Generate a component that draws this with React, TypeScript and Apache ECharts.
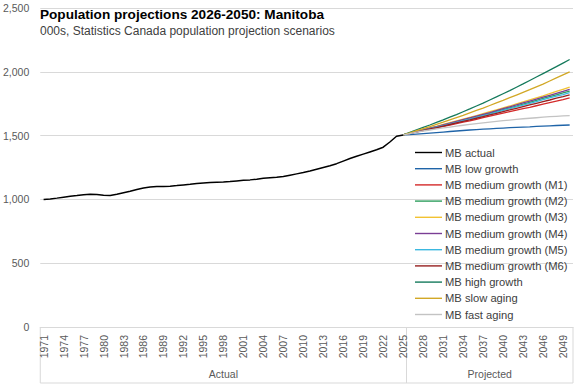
import React, { useEffect, useRef } from "react";
import * as echarts from "echarts";

const FONT = "'Liberation Sans', Arial, sans-serif";

const years: string[] = Array.from({ length: 80 }, (_, i) => String(1971 + i));

// 1971-2025, thousands
const mbActual = [
  1000, 1004, 1010, 1017, 1024, 1030, 1037, 1041, 1038, 1032,
  1030, 1040, 1052, 1064, 1077, 1090, 1097, 1101, 1102, 1104,
  1108, 1113, 1118, 1124, 1128, 1132, 1134, 1136, 1140, 1145,
  1150, 1153, 1158, 1165, 1170, 1173, 1180, 1190, 1200, 1210,
  1222, 1236, 1250, 1264, 1280, 1300, 1320, 1338, 1355, 1372,
  1389, 1409, 1450, 1495, 1505,
];

// 2025-2050, thousands
const lowGrowth = [
  1505, 1508, 1512, 1516, 1520, 1524, 1528, 1532, 1536, 1540, 1544, 1547, 1550,
  1553, 1556, 1559, 1562, 1565, 1567, 1569, 1572, 1575, 1577, 1579, 1581, 1583,
];
const mediumM1 = [
  1505, 1517, 1528, 1539, 1550, 1561, 1572, 1583, 1594, 1605, 1616, 1628, 1640,
  1652, 1664, 1676, 1688, 1700, 1712, 1722, 1734, 1746, 1758, 1770, 1782, 1795,
];
const mediumM2 = [
  1505, 1519, 1532, 1544, 1556, 1568, 1581, 1594, 1607, 1620, 1633, 1647, 1661,
  1675, 1689, 1703, 1717, 1731, 1746, 1761, 1776, 1791, 1806, 1820, 1834, 1848,
];
const mediumM3 = [
  1505, 1520, 1534, 1547, 1560, 1573, 1587, 1601, 1615, 1629, 1643, 1657, 1672,
  1687, 1702, 1717, 1732, 1748, 1764, 1780, 1796, 1812, 1829, 1846, 1863, 1880,
];
const mediumM4 = [
  1505, 1519, 1532, 1545, 1558, 1571, 1584, 1597, 1611, 1625, 1639, 1653, 1667,
  1681, 1696, 1711, 1726, 1741, 1756, 1771, 1786, 1801, 1816, 1831, 1846, 1862,
];
const mediumM5 = [
  1505, 1518, 1530, 1542, 1554, 1566, 1578, 1591, 1604, 1617, 1630, 1643, 1656,
  1669, 1683, 1697, 1711, 1725, 1739, 1753, 1767, 1781, 1795, 1809, 1822, 1836,
];
const mediumM6 = [
  1505, 1518, 1530, 1541, 1552, 1563, 1575, 1587, 1599, 1611, 1623, 1636, 1649,
  1662, 1675, 1688, 1701, 1714, 1727, 1740, 1753, 1766, 1779, 1793, 1806, 1820,
];
const highGrowth = [
  1505, 1525, 1545, 1564, 1583, 1603, 1623, 1644, 1665, 1687, 1709, 1732, 1755,
  1779, 1803, 1828, 1853, 1879, 1905, 1932, 1959, 1986, 2013, 2040, 2068, 2096,
];
const slowAging = [
  1505, 1522, 1539, 1555, 1571, 1588, 1605, 1623, 1641, 1659, 1678, 1697, 1716,
  1736, 1756, 1776, 1797, 1818, 1839, 1860, 1882, 1904, 1928, 1952, 1976, 2000,
];
const fastAging = [
  1505, 1516, 1527, 1536, 1544, 1552, 1560, 1567, 1574, 1581, 1588, 1594, 1600,
  1606, 1612, 1617, 1622, 1627, 1632, 1636, 1640, 1644, 1648, 1651, 1654, 1657,
];

const projStartIndex = 54; // 2025
const groupLabels = ["Actual", "Projected"];
const lastActualYear = "2025";
const firstProjectedYear = "2026";

const seriesDefs: { name: string; data: number[]; color: string; projected: boolean }[] = [
  { name: "MB actual", data: mbActual, color: "#000000", projected: false },
  { name: "MB low growth", data: lowGrowth, color: "#1f64a8", projected: true },
  { name: "MB medium growth (M1)", data: mediumM1, color: "#d42a2a", projected: true },
  { name: "MB medium growth (M2)", data: mediumM2, color: "#2e9e5e", projected: true },
  { name: "MB medium growth (M3)", data: mediumM3, color: "#f2c232", projected: true },
  { name: "MB medium growth (M4)", data: mediumM4, color: "#7a3e95", projected: true },
  { name: "MB medium growth (M5)", data: mediumM5, color: "#3bb8e0", projected: true },
  { name: "MB medium growth (M6)", data: mediumM6, color: "#962020", projected: true },
  { name: "MB high growth", data: highGrowth, color: "#157a5c", projected: true },
  { name: "MB slow aging", data: slowAging, color: "#d2a826", projected: true },
  { name: "MB fast aging", data: fastAging, color: "#c3c3c3", projected: true },
];

export default function App() {
  const ref = useRef<HTMLDivElement>(null);

  useEffect(() => {
    if (!ref.current) return;
    const chart = echarts.init(ref.current, null, { renderer: "svg" });

    const series = seriesDefs.map((s) => ({
      name: s.name,
      type: "line",
      symbol: "none",
      data: s.projected
        ? (new Array(projStartIndex).fill(null) as (number | null)[]).concat(s.data)
        : s.data,
      lineStyle: { color: s.color, width: s.projected ? 1.3 : 1.5 },
      itemStyle: { color: s.color },
      z: s.projected ? 2 : 3,
    }));

    chart.setOption({
      animation: false,
      textStyle: { fontFamily: FONT },
      title: {
        text: "Population projections 2026-2050: Manitoba",
        subtext: "000s, Statistics Canada population projection scenarios",
        left: 40,
        top: 7,
        padding: 0,
        itemGap: 4,
        textStyle: { fontFamily: FONT, fontSize: 13.6, fontWeight: "bold", color: "#000000" },
        subtextStyle: { fontFamily: FONT, fontSize: 12, color: "#404040" },
      },
      legend: {
        orient: "vertical",
        left: 415,
        top: 146,
        padding: 0,
        icon: "rect",
        itemWidth: 27,
        itemHeight: 1.4,
        itemGap: 3.2,
        data: seriesDefs.map((s) => s.name),
        textStyle: {
          fontFamily: FONT,
          fontSize: 11.2,
          lineHeight: 13,
          color: "#404040",
          padding: [0, 0, 0, -2],
        },
      },
      grid: { left: 40, right: 3, top: 8, bottom: 57, containLabel: false },
      xAxis: {
        type: "category",
        data: years,
        boundaryGap: true,
        axisLine: { lineStyle: { color: "#d9d9d9" } },
        axisTick: { show: false },
        axisLabel: {
          interval: 2,
          rotate: 90,
          fontSize: 10.5,
          color: "#595959",
          margin: 8,
          fontFamily: FONT,
        },
      },
      yAxis: {
        type: "value",
        min: 0,
        max: 2500,
        interval: 500,
        axisLine: { show: false },
        axisTick: { show: false },
        splitLine: { lineStyle: { color: "#d9d9d9" } },
        axisLabel: {
          fontSize: 10.5,
          color: "#595959",
          margin: 11,
          fontFamily: FONT,
          formatter: (v: number) => v.toLocaleString("en-US"),
        },
      },
      series,
    });

    const xFirst = chart.convertToPixel({ xAxisIndex: 0 }, years[0]) as number;
    const xSecond = chart.convertToPixel({ xAxisIndex: 0 }, years[1]) as number;
    const band = xSecond - xFirst;
    const xLast = chart.convertToPixel({ xAxisIndex: 0 }, years[years.length - 1]) as number;
    const xA = chart.convertToPixel({ xAxisIndex: 0 }, lastActualYear) as number;
    const xB = chart.convertToPixel({ xAxisIndex: 0 }, firstProjectedYear) as number;
    const left = xFirst - band / 2;
    const right = xLast + band / 2;
    const mid = (xA + xB) / 2;
    const yBase = chart.convertToPixel({ yAxisIndex: 0 }, 0) as number;
    const yBottom = 383;
    const lineStyle = { stroke: "#d9d9d9", lineWidth: 1 };

    chart.setOption({
      graphic: [
        { type: "line", shape: { x1: left, y1: yBase, x2: left, y2: yBottom }, style: lineStyle, silent: true },
        { type: "line", shape: { x1: mid, y1: yBase, x2: mid, y2: yBottom }, style: lineStyle, silent: true },
        { type: "line", shape: { x1: right, y1: yBase, x2: right, y2: yBottom }, style: lineStyle, silent: true },
        { type: "line", shape: { x1: left, y1: yBottom, x2: right, y2: yBottom }, style: lineStyle, silent: true },
        {
          type: "text",
          x: (left + mid) / 2,
          y: 374,
          style: {
            text: groupLabels[0],
            fontFamily: FONT,
            fontSize: 10.5,
            fill: "#595959",
            align: "center",
            verticalAlign: "middle",
          },
        },
        {
          type: "text",
          x: (mid + right) / 2,
          y: 374,
          style: {
            text: groupLabels[1],
            fontFamily: FONT,
            fontSize: 10.5,
            fill: "#595959",
            align: "center",
            verticalAlign: "middle",
          },
        },
      ],
    });

    return () => chart.dispose();
  }, []);

  return (
    <div
      ref={ref}
      style={{ position: "fixed", left: 0, top: 0, width: 576, height: 384, background: "#ffffff" }}
    />
  );
}
